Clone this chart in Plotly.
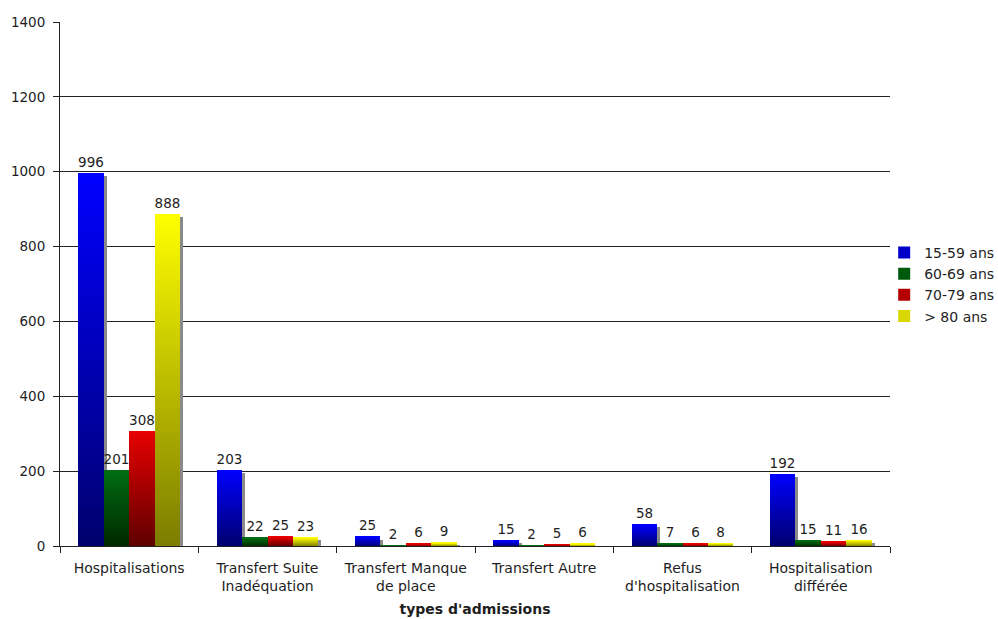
import plotly.graph_objects as go

# Admission types (x categories) and the four age groups
categories = [
    "Hospitalisations",
    "Transfert Suite<br>Inadéquation",
    "Transfert Manque<br>de place",
    "Transfert Autre",
    "Refus<br>d'hospitalisation",
    "Hospitalisation<br>différée",
]
series_names = ["15-59 ans", "60-69 ans", "70-79 ans", "> 80 ans"]

ages_15_59 = [996, 203, 25, 15, 58, 192]
ages_60_69 = [201, 22, 2, 2, 7, 15]
ages_70_79 = [308, 25, 6, 5, 6, 11]
ages_80_plus = [888, 23, 9, 6, 8, 16]

y_ticks = [0, 200, 400, 600, 800, 1000, 1200, 1400]

# Gradient colours per series: (top, bottom)
gradients = [
    ((0, 0, 255), (0, 0, 110)),
    ((0, 108, 18), (0, 40, 0)),
    ((232, 0, 0), (94, 0, 0)),
    ((255, 255, 0), (124, 124, 0)),
]
legend_colors = ["#0000c8", "#005a0c", "#b40000", "#d8d800"]

FONT = "DejaVu Sans"
TEXT = "#1e1e1e"

series = [ages_15_59, ages_60_69, ages_70_79, ages_80_plus]
BAR_W = 0.184
GROUP_START = -2 * BAR_W
SHADOW_DX = 0.022
SHADOW_DY = 8
N_SLICES = 70


def mix(top, bottom, t):
    # t = 0 at the bottom of the bar, 1 at the top
    return "rgb(%d,%d,%d)" % tuple(round(b + (a - b) * t) for a, b in zip(top, bottom))


xs, vals, offs, grads = [], [], [], []
for j, values in enumerate(series):
    for cat, v in zip(categories, values):
        xs.append(cat)
        vals.append(v)
        offs.append(GROUP_START + j * BAR_W)
        grads.append(gradients[j])

fig = go.Figure()

# Drop shadow behind every bar
fig.add_trace(go.Bar(
    x=xs,
    y=[max(v - SHADOW_DY, 0) for v in vals],
    base=[0] * len(vals),
    offset=[o + SHADOW_DX for o in offs],
    width=[BAR_W] * len(vals),
    marker=dict(color="#8a8a8a", line=dict(width=0)),
    showlegend=False,
    hoverinfo="skip",
))

# Each bar is filled with a vertical gradient built from stacked slices
for k in range(N_SLICES):
    t = (k + 0.5) / N_SLICES
    top_slice = k == N_SLICES - 1
    fig.add_trace(go.Bar(
        x=xs,
        y=[v * min(k + 2, N_SLICES) / N_SLICES - v * k / N_SLICES for v in vals],
        base=[v * k / N_SLICES for v in vals],
        offset=offs,
        width=[BAR_W] * len(vals),
        marker=dict(color=[mix(g[0], g[1], t) for g in grads], line=dict(width=0)),
        text=[str(v) for v in vals] if top_slice else None,
        textposition="outside" if top_slice else "none",
        textfont=dict(family=FONT, size=13.5, color=TEXT),
        constraintext="none",
        cliponaxis=False,
        showlegend=False,
        hovertemplate="%{x}: %{customdata}<extra></extra>",
        customdata=vals,
    ))

# Legend entries
for name, col in zip(series_names, legend_colors):
    fig.add_trace(go.Bar(x=[None], y=[None], name=name,
                         marker=dict(color=col, line=dict(width=0))))

fig.update_layout(
    width=998,
    height=619,
    barmode="overlay",
    bargap=0,
    bargroupgap=0,
    paper_bgcolor="white",
    plot_bgcolor="white",
    margin=dict(l=60, r=108, t=22, b=73, autoexpand=False),
    font=dict(family=FONT, size=13, color=TEXT),
    legend=dict(
        x=0.993, xanchor="left",
        y=0.59, yanchor="top",
        font=dict(family=FONT, size=14, color=TEXT),
        traceorder="normal",
        itemclick=False,
        bgcolor="rgba(0,0,0,0)",
    ),
    xaxis=dict(
        type="category",
        categoryorder="array",
        categoryarray=categories,
        range=[-0.5, len(categories) - 0.5],
        showline=True, linecolor="#222", linewidth=1,
        ticks="outside", ticklen=6, tickcolor="#222",
        tickson="boundaries",
        ticklabelstandoff=9,
        showgrid=False,
        tickfont=dict(family=FONT, size=14, color=TEXT),
        title=dict(text="types d'admissions", standoff=11,
                   font=dict(family=FONT, size=14, color=TEXT, weight="bold")),
    ),
    yaxis=dict(
        range=[0, 1400],
        tickvals=y_ticks,
        showline=True, linecolor="#222", linewidth=1,
        ticks="outside", ticklen=6, tickcolor="#222",
        ticklabelstandoff=5,
        showgrid=True, gridcolor="#222", gridwidth=1,
        zeroline=False,
        tickfont=dict(family=FONT, size=13.5, color=TEXT),
    ),
)

fig.write_html("out.html")
